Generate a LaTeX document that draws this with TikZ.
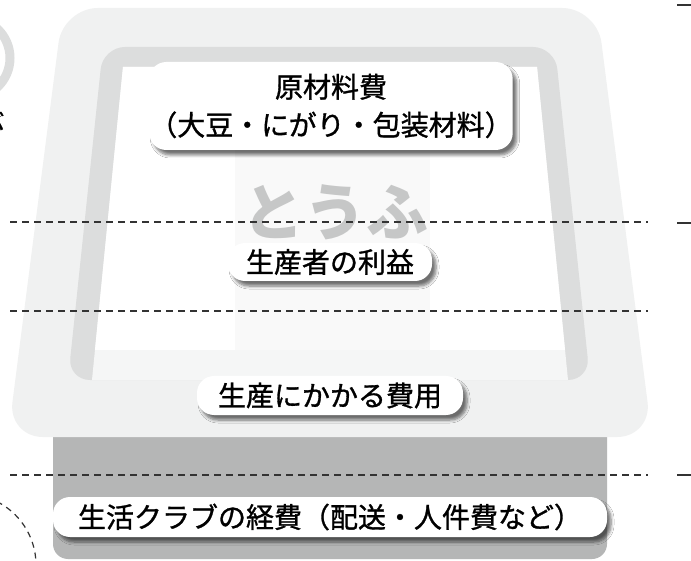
\documentclass[tikz,border=0pt]{standalone}
\usepackage{fontspec}
\setmainfont{Noto Sans CJK JP}
\newfontfamily\lblfont{Noto Sans CJK JP}[FakeBold=1.1]
\usetikzlibrary{shadows.blur}
\definecolor{pkgouter}{HTML}{F0F1F1}
\definecolor{pkgband}{HTML}{DCDDDD}
\definecolor{pkginner}{HTML}{F5F6F6}
\definecolor{pkgdark}{HTML}{B5B6B6}
\definecolor{wmgray}{HTML}{C6C7C7}
\definecolor{lineblack}{HTML}{333333}

\begin{document}
\begin{tikzpicture}[x=1pt,y=-1pt]
    \tikzstyle{label box}=[fill=white, rounded corners=17pt, inner sep=0pt, align=center,
                text=black, font=\lblfont\fontsize{28}{38}\selectfont,
                blur shadow={shadow xshift=4pt, shadow yshift=-5pt, shadow blur steps=6,
                             shadow blur radius=3pt, shadow opacity=55}]
    \tikzstyle{sep line}=[draw=lineblack, line width=1.3pt, dash pattern=on 7pt off 5pt]
    \tikzstyle{tick line}=[draw=lineblack, line width=1.4pt]

    \clip (0,0) rectangle (691,561);
    \fill[white] (0,0) rectangle (691,561);

    % neighbour figure, cut off at the left
    \draw[pkgband, line width=9pt] (-30,58) circle (40);
    \draw[lineblack, line width=1.2pt, dash pattern=on 6pt off 5pt] (-35,565) ++(90:-71) arc (-90:0:71);
    \node[anchor=east, font=\lblfont\fontsize{27}{27}\selectfont] (cutA) at (8,121) {ぶ};
    \node[anchor=east, font=\lblfont\fontsize{27}{27}\selectfont] (cutB) at (3,163) {目};

    % the tofu package
    \fill[pkgdark, rounded corners=15pt] (53,420) -- (607,420) -- (607,559) -- (53,559) -- cycle;
    \fill[pkgouter, rounded corners=35pt] (63,8) -- (597,8) -- (652,437) -- (8,437) -- cycle;
    \fill[pkgband, rounded corners=22pt] (103,47) -- (555,47) -- (590,380) -- (68,380) -- cycle;
    \fill[pkginner] (123,67) -- (537,67) -- (568,380) -- (92,380) -- cycle;
    \fill[white] (123,67) -- (537,67) -- (565,350) -- (95,350) -- cycle;
    \fill[black, opacity=.025] (235,67) rectangle (430,350);

    % watermark
    \node[text=wmgray, font=\fontsize{62}{62}\bfseries] (tofu) at (335,212) {とうふ};

    % separating lines and ticks
    \foreach \y in {222,311,475}
        \draw[sep line] (10,\y) -- (648,\y);
    \foreach \y in {5,223,475}
        \draw[tick line] (677,\y) -- (691,\y);

    % cost labels
    \node[label box, minimum width=352pt, minimum height=88pt] (material) at (331,106)
        {原材料費\\（大豆・にがり・包装材料）};
    \node[label box, minimum width=204pt, minimum height=38pt] (profit) at (330,262) {生産者の利益};
    \node[label box, minimum width=266pt, minimum height=39pt] (production) at (330,395.5) {生産にかかる費用};
    \node[label box, minimum width=554pt, minimum height=40pt] (club) at (330,517)
        {生活クラブの経費（配送・人件費など）};
\end{tikzpicture}
\end{document}
